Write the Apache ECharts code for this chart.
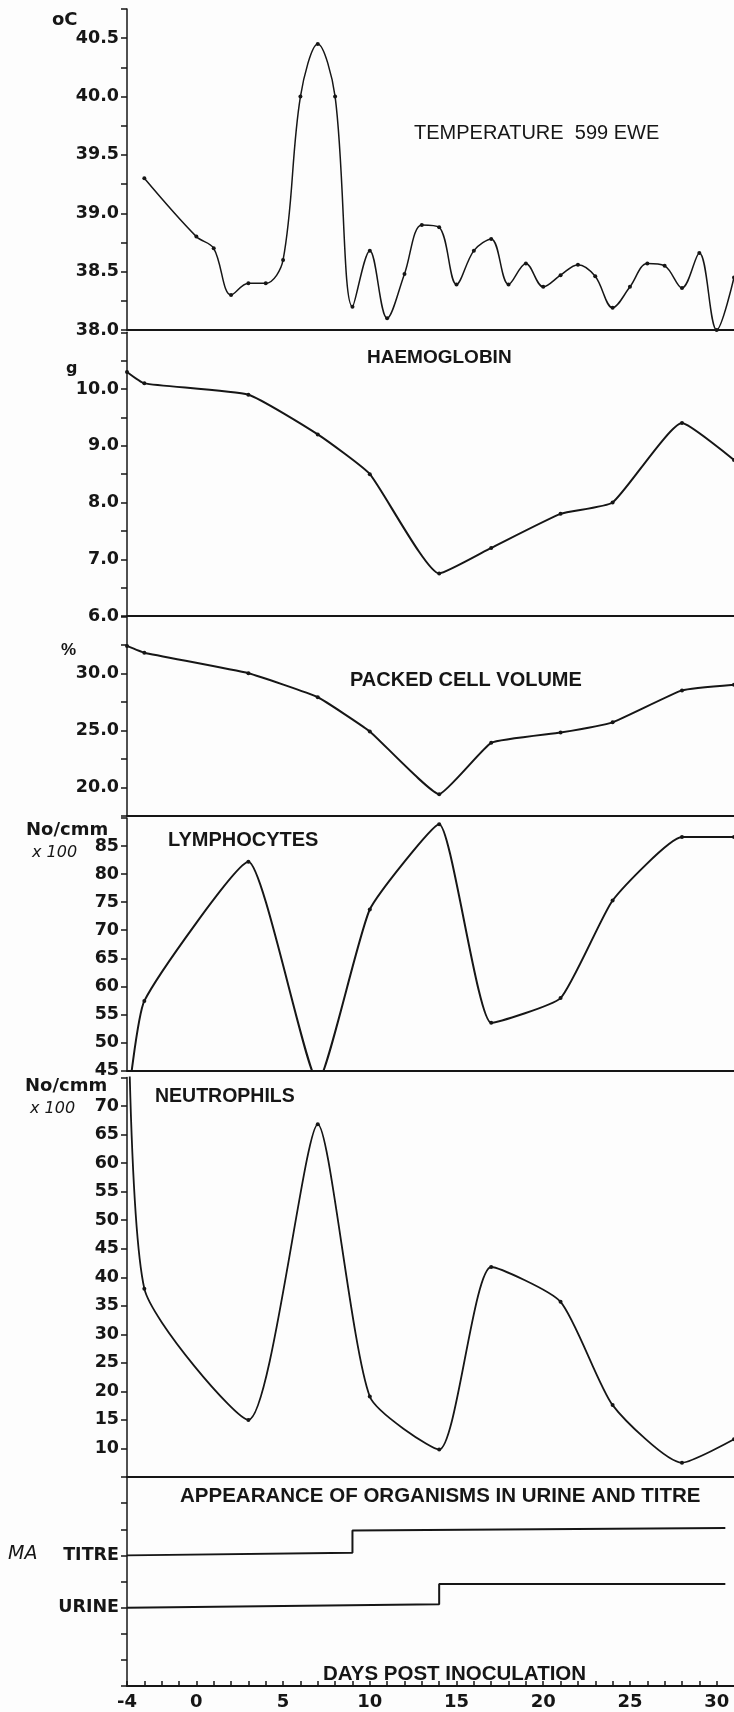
<!DOCTYPE html>
<html>
<head>
<meta charset="utf-8">
<title>Temperature 599 ewe</title>
<script src="https://cdn.jsdelivr.net/npm/echarts@6/dist/echarts.min.js"></script>
<style>
    html, body { margin: 0; padding: 0; background: #fdfdfd; }
    #chart { width: 734px; height: 1712px; }
</style>
</head>
<body>
<div id="chart"></div>
<script>
// temperature, one reading a day
const tempDays = [-3, 0, 1, 2, 3, 4, 5, 6, 7, 8, 9, 10, 11, 12, 13, 14, 15, 16,
    17, 18, 19, 20, 21, 22, 23, 24, 25, 26, 27, 28, 29, 30, 31];
const tempValues = [39.3, 38.8, 38.7, 38.3, 38.4, 38.4, 38.6, 40.0, 40.45, 40.0, 38.2,
    38.68, 38.1, 38.48, 38.9, 38.88, 38.39, 38.68, 38.78, 38.39, 38.57, 38.37, 38.47,
    38.56, 38.46, 38.19, 38.37, 38.57, 38.55, 38.36, 38.66, 38.0, 38.45];

// blood samples
const bloodDays = [-4, -3, 3, 7, 10, 14, 17, 21, 24, 28, 31];
const hbValues = [10.3, 10.1, 9.9, 9.2, 8.5, 6.75, 7.2, 7.8, 8.0, 9.4, 8.75];
const pcvValues = [32.4, 31.8, 30.0, 27.9, 24.9, 19.4, 23.9, 24.8, 25.7, 28.5, 29.0];
const lymphValues = [38, 57.4, 82.2, 43, 73.7, 88.9, 53.5, 57.9, 75.3, 86.6, 86.6];
const neutroValues = [110, 38, 15, 66.8, 19.1, 9.8, 41.8, 35.7, 17.6, 7.5, 11.6];

// urine / titre step lines
const titreDays = [-4, 9, 9, 30.5];
const titreLevels = [5, 5.1, 5.95, 6.05];
const urineDays = [-4, 14, 14, 30.5];
const urineLevels = [3, 3.13, 3.9, 3.9];

const dayLabels = [-4, 0, 5, 10, 15, 20, 25, 30];

const ink = '#161616';
const tickFont = 'DejaVu Sans';
const titleFont = '"Liberation Sans", Arial, sans-serif';

function pairs(xs, ys) {
    let out = [];
    for (let i = 0; i < xs.length; i++) {
        out.push([xs[i], ys[i]]);
    }
    return out;
}

function near(v, step) {
    return Math.abs(v / step - Math.round(v / step)) < 1e-6;
}

// x axis of each panel, only the bottom one carries ticks and labels
function xAxisFor(i, last) {
    return {
        type: 'value',
        gridIndex: i,
        min: -4,
        max: 31,
        interval: 1,
        axisLine: { show: true, onZero: false, lineStyle: { color: ink, width: 2 } },
        axisTick: { show: last, inside: true, length: 5, lineStyle: { color: ink, width: 1.5 } },
        axisLabel: {
            show: last,
            margin: 7,
            fontFamily: tickFont,
            fontWeight: 'bold',
            fontSize: 18,
            color: ink,
            showMinLabel: true,
            showMaxLabel: false,
            formatter: v => dayLabels.indexOf(v) >= 0 ? String(v) : ''
        },
        splitLine: { show: false }
    };
}

function yAxisFor(i, min, max, interval, fmt) {
    return {
        type: 'value',
        gridIndex: i,
        min: min,
        max: max,
        interval: interval,
        axisLine: { show: true, onZero: false, lineStyle: { color: ink, width: 1.5 } },
        axisTick: { show: true, length: 6, lineStyle: { color: ink, width: 1.5 } },
        axisLabel: {
            margin: 8,
            fontFamily: tickFont,
            fontWeight: 'bold',
            fontSize: 17.5,
            color: ink,
            showMinLabel: true,
            showMaxLabel: true,
            formatter: fmt
        },
        splitLine: { show: false }
    };
}

function curve(i, xs, ys, width, smooth) {
    return {
        type: 'line',
        xAxisIndex: i,
        yAxisIndex: i,
        data: pairs(xs, ys),
        smooth: smooth,
        clip: true,
        symbol: 'circle',
        symbolSize: 4,
        itemStyle: { color: ink },
        lineStyle: { color: ink, width: width }
    };
}

function step(xs, ys) {
    return {
        type: 'line',
        xAxisIndex: 5,
        yAxisIndex: 5,
        data: pairs(xs, ys),
        showSymbol: false,
        lineStyle: { color: ink, width: 2 }
    };
}

function text(str, x, y, font, align) {
    return {
        type: 'text',
        x: x,
        y: y,
        style: {
            text: str,
            font: font,
            fill: ink,
            textAlign: align || 'left',
            textVerticalAlign: 'middle'
        }
    };
}

const chartDom = document.getElementById('chart');
const myChart = echarts.init(chartDom, null, { renderer: 'canvas' });

const option = {
    animation: false,
    backgroundColor: '#fdfdfd',
    grid: [
        { left: 127, width: 607, top: 9, height: 321 },
        { left: 127, width: 607, top: 332.3, height: 283.7 },
        { left: 127, width: 607, top: 616.3, height: 199.5 },
        { left: 127, width: 607, top: 818, height: 252.5 },
        { left: 127, width: 607, top: 1077.5, height: 399.5 },
        { left: 127, width: 607, top: 1477, height: 209 }
    ],
    xAxis: [0, 1, 2, 3, 4, 5].map(i => xAxisFor(i, i === 5)),
    yAxis: [
        yAxisFor(0, 38, 40.75, 0.25, v => near(v, 0.5) ? v.toFixed(1) : ''),
        yAxisFor(1, 6, 11, 0.5, v => near(v, 1) && v < 11 ? v.toFixed(1) : ''),
        yAxisFor(2, 17.5, 35, 2.5, v => near(v, 5) && v < 35 ? v.toFixed(1) : ''),
        yAxisFor(3, 45, 90, 5, v => v < 90 ? String(v) : ''),
        yAxisFor(4, 5, 75, 5, v => v > 5 && v < 75 ? String(v) : ''),
        yAxisFor(5, 0, 8, 1, v => v === 5 ? 'TITRE' : (v === 3 ? 'URINE' : ''))
    ],
    series: [
        curve(0, tempDays, tempValues, 1.5, 0.35),
        curve(1, bloodDays, hbValues, 2, 0.15),
        curve(2, bloodDays, pcvValues, 2, 0.12),
        curve(3, bloodDays, lymphValues, 2, 0.15),
        curve(4, bloodDays, neutroValues, 1.8, 0.2),
        step(titreDays, titreLevels),
        step(urineDays, urineLevels)
    ],
    graphic: [
        text('oC', 52, 20, 'bold 18px "DejaVu Sans"'),
        text('g', 66, 369, 'bold 16px "DejaVu Sans"'),
        text('%', 61, 650, 'bold 17px "Liberation Sans"'),
        text('No/cmm', 26, 830, 'bold 18px "DejaVu Sans"'),
        text('x 100', 32, 853, 'italic 16px "DejaVu Sans"'),
        text('No/cmm', 25, 1086, 'bold 18px "DejaVu Sans"'),
        text('x 100', 30, 1109, 'italic 16px "DejaVu Sans"'),
        text('MA', 8, 1554, 'italic 19px "DejaVu Sans"'),

        text('TEMPERATURE  599 EWE', 414, 133, '20px ' + titleFont),
        text('HAEMOGLOBIN', 367, 358, 'bold 19px ' + titleFont),
        text('PACKED CELL VOLUME', 350, 680, 'bold 20px ' + titleFont),
        text('LYMPHOCYTES', 168, 840, 'bold 20px ' + titleFont),
        text('NEUTROPHILS', 155, 1097, 'bold 19.5px ' + titleFont),
        text('APPEARANCE OF ORGANISMS IN URINE AND TITRE', 180, 1496, 'bold 20.5px ' + titleFont),
        text('DAYS POST INOCULATION', 323, 1674, 'bold 20.5px ' + titleFont)
    ]
};

option && myChart.setOption(option);
</script>
</body>
</html>
